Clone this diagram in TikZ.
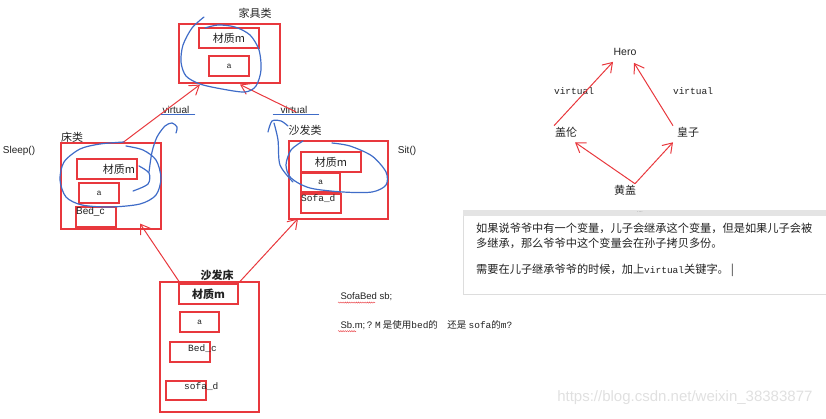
\documentclass[tikz,border=0pt]{standalone}
\usepackage{fontspec}
\setmainfont{Noto Sans CJK SC}
\newfontfamily\latinsans{Liberation Sans}
\newfontfamily\codefont{Liberation Mono}
\usetikzlibrary{arrows.meta,calc,decorations.pathmorphing}
\definecolor{redLine}{HTML}{E8383D}
\definecolor{penBlue}{HTML}{3F6CC8}
\definecolor{inkText}{HTML}{222222}
\definecolor{noteEdge}{HTML}{DDDDDD}
\definecolor{noteBar}{HTML}{E4E4E4}
\definecolor{markGray}{HTML}{E0E0E0}

\begin{document}
\begin{tikzpicture}[
  x=1pt, y=-1pt,
  every node/.style={text=inkText},
  box/.style={draw=redLine, line width=1.1pt, inner sep=0pt},
  lbl/.style={font=\fontsize{11}{13}\selectfont, inner sep=1pt},
  latin/.style={font=\latinsans\fontsize{10}{12}\selectfont, inner sep=1pt},
  small/.style={font=\latinsans\fontsize{8}{9}\selectfont, inner sep=1pt},
  code/.style={font=\codefont\fontsize{9.5}{11}\selectfont, inner sep=1pt},
  flow/.style={-{Straight Barb[length=9pt,width=12pt]}, draw=redLine, line width=1pt},
  scribble/.style={draw=penBlue, line width=1.2pt, line cap=round, line join=round},
  squig/.style={draw=redLine, line width=0.4pt, decorate,
                decoration={snake, amplitude=0.6pt, segment length=2.2pt}},
]
\useasboundingbox (0,0) rectangle (826,418);

% ---------------- LEFT: furniture classes ----------------
\node[box, minimum width=101, minimum height=59] (FURN) at (229.5,53.5) {};
\node[box, lbl, minimum width=60, minimum height=20] (FURNM) at (229,38) {材质m};
\node[box, small, minimum width=40, minimum height=20] (FURNA) at (229,66) {a};
\node[lbl] (FURNT) at (255,13) {家具类};

\node[box, minimum width=100, minimum height=86] (BED) at (111,186) {};
\node[box, lbl, minimum width=60, minimum height=20, text width=56, align=right] (BEDM) at (107,169) {材质m};
\node[box, small, minimum width=40, minimum height=20] (BEDA) at (99,193) {a};
\node[box, minimum width=40, minimum height=20] (BEDC) at (96,217) {};
\node[latin, anchor=west] (BEDCT) at (75,212) {Bed\_c};
\node[lbl] (BEDT) at (72,137) {床类};
\node[latin] (SLEEP) at (19,151) {Sleep()};

\node[box, minimum width=99, minimum height=78] (SOFA) at (338.5,180) {};
\node[box, lbl, minimum width=60, minimum height=20] (SOFAM) at (331,162) {材质m};
\node[box, small, minimum width=39, minimum height=19] (SOFAA) at (320.5,182.5) {a};
\node[box, minimum width=40, minimum height=19] (SOFAD) at (321,203.5) {};
\node[code, anchor=west] (SOFADT) at (300,199) {Sofa\_d};
\node[lbl] (SOFAT) at (305,130) {沙发类};
\node[latin] (SIT) at (407,151) {Sit()};

\node[box, minimum width=99, minimum height=130] (SB) at (209.5,347) {};
\node[box, lbl, font=\bfseries\fontsize{11}{13}\selectfont, minimum width=59, minimum height=20] (SBM) at (208.5,294) {材质m};
\node[box, small, minimum width=39, minimum height=20] (SBA) at (199.5,322) {a};
\node[box, minimum width=40, minimum height=20] (SBC) at (190,352) {};
\node[code, anchor=west] (SBCT) at (187,349) {Bed\_c};
\node[box, minimum width=40, minimum height=19] (SBD) at (186,390.5) {};
\node[code, anchor=west] (SBDT) at (183,387) {sofa\_d};
\node[lbl, font=\bfseries\fontsize{11}{13}\selectfont] (SBT) at (217,275) {沙发床};

\node[latin] (VIRTL) at (176,110) {virtual};
\node[latin] (VIRTR) at (294,110) {virtual};

% inheritance arrows
\coordinate (sofaTail) at (296,112);
\draw[flow] ($(BED.north)+(12,0)$) -- ($(FURN.south)+(-29.5,1)$);
\draw[flow] (sofaTail) -- ($(FURN.south)+(10.5,1)$);
\draw[flow] ($(SB.north)+(-30.5,0)$) -- ($(BED.south)+(29,-6)$);
\draw[flow] ($(SB.north)+(30.5,0)$) -- ($(SOFA.south)+(-40.5,-1)$);

% blue pen marks
\draw[scribble] plot[smooth] coordinates {(204,17) (192,28) (183,45) (181,62) (186,76) (200,84)
  (222,89) (245,92) (256,86) (261,70) (259,50) (250,35) (235,27) (218,25) (205,28)};
\draw[scribble] plot[smooth] coordinates {(124,142) (100,144) (80,149) (64,162) (60,180) (66,197)
  (82,205) (110,207) (140,204) (156,195) (161,178) (156,160) (143,150) (126,146)};
\draw[scribble] plot[smooth] coordinates {(139,166) (149,173) (148,184) (133,191)};
\draw[scribble] plot[smooth] coordinates {(149,172) (152,152) (157,137) (165,126) (172,123) (177,127) (176,133)};
\draw[scribble] (VIRTL.south west) -- ([xshift=4pt]VIRTL.south east);
\draw[scribble] ([xshift=-6pt]VIRTR.south west) -- ([xshift=10pt]VIRTR.south east);
\draw[scribble] plot[smooth] coordinates {(268,132) (272,121) (281,121) (288,126)};
\draw[scribble] plot[smooth] coordinates {(274,123) (278,140) (280,165) (293,182)};
\draw[scribble] plot[smooth] coordinates {(303,141) (291,150) (286,165) (291,178) (310,188)
  (343,192) (372,192) (386,185) (386,172) (372,156) (350,146) (332,143)};

% ---------------- RIGHT: diamond example ----------------
\node[latin, font=\latinsans\fontsize{10.5}{12}\selectfont] (HERO) at (625,52) {Hero};
\node[lbl] (GAILUN) at (566,132) {盖伦};
\node[lbl] (HUANGZI) at (688,132) {皇子};
\node[lbl] (HUANGGAI) at (625,190) {黄盖};
\node[code] (VIRTL2) at (574,91) {virtual};
\node[code] (VIRTR2) at (693,91) {virtual};

\draw[flow] ($(GAILUN.north)+(-12,0)$) -- ($(HERO.south)+(-12,5)$);
\draw[flow] ($(HUANGZI.north)+(-15,0)$) -- ($(HERO.south)+(9,6)$);
\draw[flow] ($(HUANGGAI.north)+(10,0)$) -- ($(GAILUN.south)+(9,4)$);
\draw[flow] ($(HUANGGAI.north)+(10,0)$) -- ($(HUANGZI.south)+(-15,4)$);

% note panel
\node[draw=noteEdge, fill=white, inner sep=0pt, minimum width=363, minimum height=84, anchor=north west] (NOTE) at (463,210) {};
\node[fill=noteBar, inner sep=0pt, minimum width=363, minimum height=6, anchor=north west] (NOTEBAR) at (463,210) {};
\node[font=\latinsans\fontsize{5}{5}\selectfont, text=gray, inner sep=0pt] (NOTEDOTS) at (640,212.5) {....};
\node[anchor=north west, align=left, inner sep=0pt, font=\fontsize{11.2}{14.5}\selectfont] (NOTETXT) at (476,223)
  {如果说爷爷中有一个变量，儿子会继承这个变量，但是如果儿子会被\\
   多继承，那么爷爷中这个变量会在孙子拷贝多份。\\[11.5pt]
   需要在儿子继承爷爷的时候，加上{\codefont\fontsize{9.5}{11}\selectfont virtual}关键字。\,|};

% code question
\node[anchor=west, font=\latinsans\fontsize{9.5}{11}\selectfont] (DECL) at (337,297) {SofaBed sb;};
\node[anchor=west, font=\fontsize{9.5}{11}\selectfont] (QUEST) at (337,325)
  {{\latinsans Sb.m;\,?} {\codefont M} 是使用{\codefont bed}的\quad 还是 {\codefont sofa}的{\codefont m?}};
\draw[squig] ($(DECL.south west)+(1,-2)$) -- ++(37,0);
\draw[squig] ($(QUEST.south west)+(1,-2)$) -- ++(18,0);

% watermark
\node[font=\latinsans\fontsize{15}{17}\selectfont, text=markGray, anchor=east] (MARK) at (816,398) {https://blog.csdn.net/weixin\_38383877};
\end{tikzpicture}
\end{document}
